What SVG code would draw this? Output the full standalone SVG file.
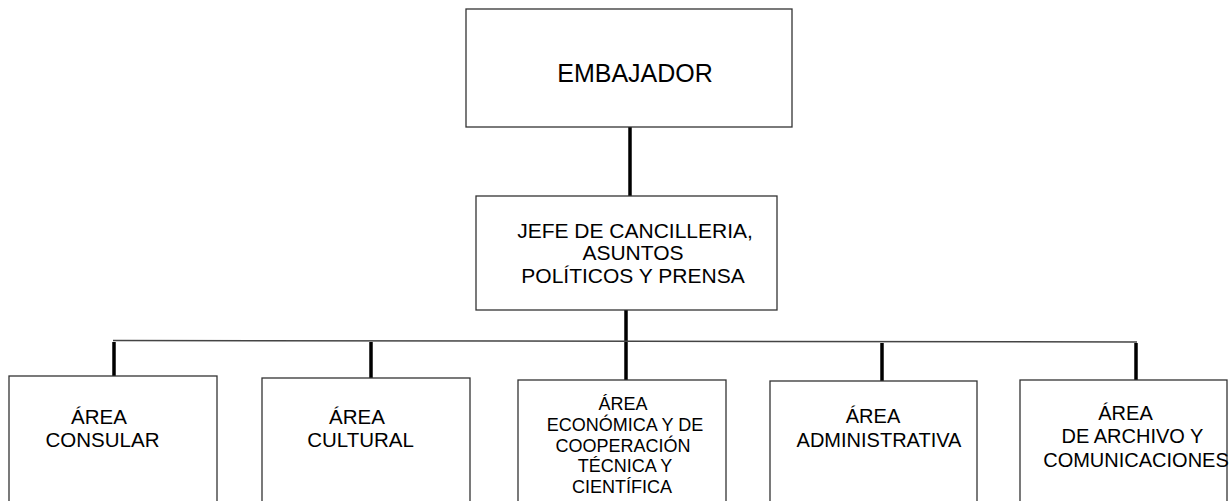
<svg xmlns="http://www.w3.org/2000/svg" width="1232" height="501" viewBox="0 0 1232 501">
<style>
.box{fill:#fff;stroke:#333;stroke-width:1.3}
.t{font-family:"Liberation Sans",Arial,sans-serif;fill:#000;text-anchor:middle}
.thick{stroke:#000;stroke-width:3.5;fill:none}
.thin{stroke:#444;stroke-width:1.5;fill:none}
</style>
<rect width="1232" height="501" fill="#fff"/>
<g id="connectors">
<line class="thick" x1="630" y1="127" x2="630" y2="196"/>
<line class="thick" x1="626" y1="310" x2="626" y2="380"/>
<line class="thin" x1="113" y1="340.5" x2="1137" y2="342"/>
<line class="thick" x1="114" y1="342" x2="114" y2="376"/>
<line class="thick" x1="371" y1="342" x2="371" y2="378"/>
<line class="thick" x1="882" y1="343" x2="882" y2="381"/>
<line class="thick" x1="1136" y1="343" x2="1136" y2="380"/>
</g>
<g id="embajador">
<rect class="box" x="466" y="9" width="326" height="118"/>
<text class="t" x="635" y="82" font-size="25">EMBAJADOR</text>
</g>
<g id="jefe">
<rect class="box" x="476" y="196" width="301" height="114"/>
<text class="t" font-size="21"><tspan x="635" y="238">JEFE DE CANCILLERIA,</tspan><tspan x="633" y="260">ASUNTOS</tspan><tspan x="633" y="283">POLÍTICOS Y PRENSA</tspan></text>
</g>
<g id="consular">
<rect class="box" x="9" y="376" width="208" height="140"/>
<text class="t" font-size="20.5"><tspan x="99" y="424">ÁREA</tspan><tspan x="102.5" y="447">CONSULAR</tspan></text>
</g>
<g id="cultural">
<rect class="box" x="262" y="378" width="208" height="140"/>
<text class="t" font-size="20.5"><tspan x="357" y="424">ÁREA</tspan><tspan x="360.5" y="447">CULTURAL</tspan></text>
</g>
<g id="economica">
<rect class="box" x="518" y="380" width="208" height="140"/>
<text class="t" font-size="18"><tspan x="623" y="410">ÁREA</tspan><tspan x="625" y="431">ECONÓMICA Y DE</tspan><tspan x="623" y="452">COOPERACIÓN</tspan><tspan x="625" y="472">TÉCNICA Y</tspan><tspan x="622" y="493">CIENTÍFICA</tspan></text>
</g>
<g id="administrativa">
<rect class="box" x="770" y="381" width="207" height="140"/>
<text class="t" font-size="20"><tspan x="873" y="423">ÁREA</tspan><tspan x="879" y="447">ADMINISTRATIVA</tspan></text>
</g>
<g id="archivo">
<rect class="box" x="1020" y="380" width="207" height="140"/>
<text class="t" font-size="20"><tspan x="1125.5" y="420">ÁREA</tspan><tspan x="1132.5" y="443">DE ARCHIVO Y</tspan><tspan x="1136" y="467">COMUNICACIONES</tspan></text>
</g>
</svg>
